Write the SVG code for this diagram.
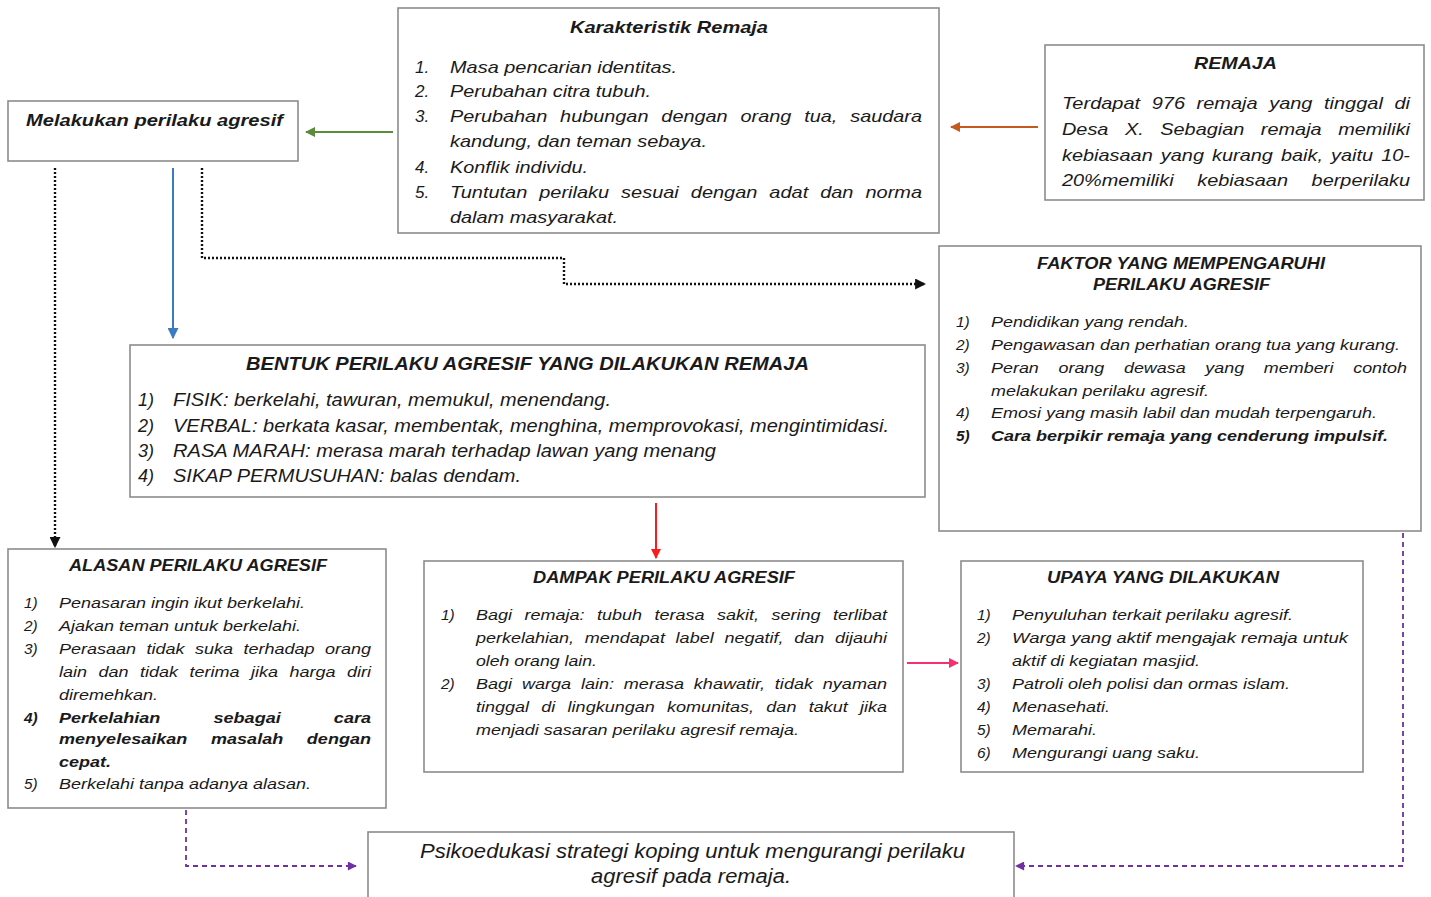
<svg xmlns="http://www.w3.org/2000/svg" width="1431" height="897" viewBox="0 0 1431 897">
<style>
.box{fill:#fff;stroke:#8c8c8c;stroke-width:1.6}
.t{font-family:"Liberation Sans",Arial,sans-serif;font-style:italic;fill:#1a1a1a}
.k{font-size:17px}
.s{font-size:15.4px}
.n{font-size:18px}
.b{font-weight:bold}
.ln{fill:none}
</style>
<defs>
<marker id="mg" viewBox="0 0 10 10" refX="9" refY="5" markerWidth="11" markerHeight="10" markerUnits="userSpaceOnUse" orient="auto"><path d="M0,0 L10,5 L0,10 z" fill="#5b8c3a"/></marker>
<marker id="mo" viewBox="0 0 10 10" refX="9" refY="5" markerWidth="11" markerHeight="10" markerUnits="userSpaceOnUse" orient="auto"><path d="M0,0 L10,5 L0,10 z" fill="#c65a1e"/></marker>
<marker id="mb" viewBox="0 0 10 10" refX="9" refY="5" markerWidth="11" markerHeight="11" markerUnits="userSpaceOnUse" orient="auto"><path d="M0,0 L10,5 L0,10 z" fill="#3a7cc4"/></marker>
<marker id="mk" viewBox="0 0 10 10" refX="9" refY="5" markerWidth="11" markerHeight="11" markerUnits="userSpaceOnUse" orient="auto"><path d="M0,0 L10,5 L0,10 z" fill="#111"/></marker>
<marker id="mr" viewBox="0 0 10 10" refX="9" refY="5" markerWidth="11" markerHeight="10" markerUnits="userSpaceOnUse" orient="auto"><path d="M0,0 L10,5 L0,10 z" fill="#ff1a1a"/></marker>
<marker id="mp" viewBox="0 0 10 10" refX="9" refY="5" markerWidth="11" markerHeight="10" markerUnits="userSpaceOnUse" orient="auto"><path d="M0,0 L10,5 L0,10 z" fill="#f5306e"/></marker>
<marker id="mv" viewBox="0 0 10 10" refX="9" refY="5" markerWidth="10" markerHeight="9" markerUnits="userSpaceOnUse" orient="auto"><path d="M0,0 L10,5 L0,10 z" fill="#7030a0"/></marker>
</defs>

<g id="connectors">
<path class="ln" d="M393,132 L306,132" stroke="#5b8c3a" stroke-width="2" marker-end="url(#mg)"/>
<path class="ln" d="M1038,127 L951,127" stroke="#c65a1e" stroke-width="2" marker-end="url(#mo)"/>
<path class="ln" d="M173,168 L173,338" stroke="#3a7cc4" stroke-width="2" marker-end="url(#mb)"/>
<path class="ln" d="M55,168 L55,547" stroke="#111" stroke-width="2.4" stroke-dasharray="2 2" marker-end="url(#mk)"/>
<path class="ln" d="M202,168 L202,258 L564,258 L564,284 L925,284" stroke="#111" stroke-width="2.4" stroke-dasharray="2 2" marker-end="url(#mk)"/>
<path class="ln" d="M656,503 L656,558" stroke="#ff1a1a" stroke-width="2" marker-end="url(#mr)"/>
<path class="ln" d="M907,663 L958,663" stroke="#f5306e" stroke-width="2" marker-end="url(#mp)"/>
<path class="ln" d="M186,810 L186,866 L356,866" stroke="#7030a0" stroke-width="1.8" stroke-dasharray="5 4" marker-end="url(#mv)"/>
<path class="ln" d="M1403,533 L1403,866 L1016,866" stroke="#7030a0" stroke-width="1.8" stroke-dasharray="5 4" marker-end="url(#mv)"/>
</g>

<g id="melakukan">
<rect class="box" x="8" y="101" width="290" height="60"/>
<text class="t b" font-size="16.5" x="26" y="126" textLength="257" lengthAdjust="spacingAndGlyphs">Melakukan perilaku agresif</text>
</g>

<g id="karakteristik">
<rect class="box" x="398" y="8" width="541" height="225"/>
<text class="t k b" x="570" y="33" textLength="198" lengthAdjust="spacingAndGlyphs">Karakteristik Remaja</text>
<text class="t k" x="415" y="73">1.</text>
<text class="t k" x="450" y="73" textLength="227" lengthAdjust="spacingAndGlyphs">Masa pencarian identitas.</text>
<text class="t k" x="415" y="97">2.</text>
<text class="t k" x="450" y="97" textLength="201" lengthAdjust="spacingAndGlyphs">Perubahan citra tubuh.</text>
<text class="t k" x="415" y="122">3.</text>
<text class="t k" x="450" y="122" word-spacing="6.3" textLength="472" lengthAdjust="spacingAndGlyphs">Perubahan hubungan dengan orang tua, saudara</text>
<text class="t k" x="450" y="147" textLength="257" lengthAdjust="spacingAndGlyphs">kandung, dan teman sebaya.</text>
<text class="t k" x="415" y="173">4.</text>
<text class="t k" x="450" y="173" textLength="138" lengthAdjust="spacingAndGlyphs">Konflik individu.</text>
<text class="t k" x="415" y="198">5.</text>
<text class="t k" x="450" y="198" word-spacing="5.5" textLength="472" lengthAdjust="spacingAndGlyphs">Tuntutan perilaku sesuai dengan adat dan norma</text>
<text class="t k" x="450" y="223" textLength="168" lengthAdjust="spacingAndGlyphs">dalam masyarakat.</text>
</g>

<g id="remaja">
<rect class="box" x="1045" y="45" width="379" height="155"/>
<text class="t k b" x="1194" y="69" textLength="83" lengthAdjust="spacingAndGlyphs">REMAJA</text>
<text class="t k" x="1062" y="109" word-spacing="5.1" textLength="348" lengthAdjust="spacingAndGlyphs">Terdapat 976 remaja yang tinggal di</text>
<text class="t k" x="1062" y="135" word-spacing="9.4" textLength="348" lengthAdjust="spacingAndGlyphs">Desa X. Sebagian remaja memiliki</text>
<text class="t k" x="1062" y="161" word-spacing="2.2" textLength="348" lengthAdjust="spacingAndGlyphs">kebiasaan yang kurang baik, yaitu 10-</text>
<text class="t k" x="1062" y="186" word-spacing="15.5" textLength="348" lengthAdjust="spacingAndGlyphs">20%memiliki kebiasaan berperilaku</text>
</g>

<g id="faktor">
<rect class="box" x="939" y="246" width="482" height="285"/>
<text class="t b" font-size="16" x="1037" y="269" textLength="288" lengthAdjust="spacingAndGlyphs">FAKTOR YANG MEMPENGARUHI</text>
<text class="t b" font-size="16" x="1093" y="290" textLength="177" lengthAdjust="spacingAndGlyphs">PERILAKU AGRESIF</text>
<text class="t s" x="956" y="327">1)</text>
<text class="t s" x="991" y="327" textLength="198" lengthAdjust="spacingAndGlyphs">Pendidikan yang rendah.</text>
<text class="t s" x="956" y="350">2)</text>
<text class="t s" x="991" y="350" textLength="409" lengthAdjust="spacingAndGlyphs">Pengawasan dan perhatian orang tua yang kurang.</text>
<text class="t s" x="956" y="373">3)</text>
<text class="t s" x="991" y="373" word-spacing="12.6" textLength="416" lengthAdjust="spacingAndGlyphs">Peran orang dewasa yang memberi contoh</text>
<text class="t s" x="991" y="396" textLength="218" lengthAdjust="spacingAndGlyphs">melakukan perilaku agresif.</text>
<text class="t s" x="956" y="418">4)</text>
<text class="t s" x="991" y="418" textLength="386" lengthAdjust="spacingAndGlyphs">Emosi yang masih labil dan mudah terpengaruh.</text>
<text class="t s b" x="956" y="441">5)</text>
<text class="t s b" x="991" y="441" textLength="397" lengthAdjust="spacingAndGlyphs">Cara berpikir remaja yang cenderung impulsif.</text>
</g>

<g id="bentuk">
<rect class="box" x="130" y="345" width="795" height="152"/>
<text class="t b" font-size="19" x="246" y="370" textLength="563" lengthAdjust="spacingAndGlyphs">BENTUK PERILAKU AGRESIF YANG DILAKUKAN REMAJA</text>
<text class="t n" x="138" y="406">1)</text>
<text class="t n" x="173" y="406" textLength="438" lengthAdjust="spacingAndGlyphs">FISIK: berkelahi, tawuran, memukul, menendang.</text>
<text class="t n" x="138" y="432">2)</text>
<text class="t n" x="173" y="432" textLength="716" lengthAdjust="spacingAndGlyphs">VERBAL: berkata kasar, membentak, menghina, memprovokasi, mengintimidasi.</text>
<text class="t n" x="138" y="457">3)</text>
<text class="t n" x="173" y="457" textLength="543" lengthAdjust="spacingAndGlyphs">RASA MARAH: merasa marah terhadap lawan yang menang</text>
<text class="t n" x="138" y="482">4)</text>
<text class="t n" x="173" y="482" textLength="348" lengthAdjust="spacingAndGlyphs">SIKAP PERMUSUHAN: balas dendam.</text>
</g>

<g id="alasan">
<rect class="box" x="8" y="549" width="378" height="259"/>
<text class="t b" font-size="16" x="69" y="571" textLength="258" lengthAdjust="spacingAndGlyphs">ALASAN PERILAKU AGRESIF</text>
<text class="t s" x="24" y="608">1)</text>
<text class="t s" x="59" y="608" textLength="246" lengthAdjust="spacingAndGlyphs">Penasaran ingin ikut berkelahi.</text>
<text class="t s" x="24" y="631">2)</text>
<text class="t s" x="59" y="631" textLength="242" lengthAdjust="spacingAndGlyphs">Ajakan teman untuk berkelahi.</text>
<text class="t s" x="24" y="654">3)</text>
<text class="t s" x="59" y="654" word-spacing="4.6" textLength="312" lengthAdjust="spacingAndGlyphs">Perasaan tidak suka terhadap orang</text>
<text class="t s" x="59" y="677" word-spacing="5.5" textLength="312" lengthAdjust="spacingAndGlyphs">lain dan tidak terima jika harga diri</text>
<text class="t s" x="59" y="700" textLength="99" lengthAdjust="spacingAndGlyphs">diremehkan.</text>
<text class="t s b" x="24" y="723">4)</text>
<text class="t s b" x="59" y="723" word-spacing="41" textLength="312" lengthAdjust="spacingAndGlyphs">Perkelahian sebagai cara</text>
<text class="t s b" x="59" y="744" word-spacing="15.9" textLength="312" lengthAdjust="spacingAndGlyphs">menyelesaikan masalah dengan</text>
<text class="t s b" x="59" y="767" textLength="52" lengthAdjust="spacingAndGlyphs">cepat.</text>
<text class="t s" x="24" y="789">5)</text>
<text class="t s" x="59" y="789" textLength="252" lengthAdjust="spacingAndGlyphs">Berkelahi tanpa adanya alasan.</text>
</g>

<g id="dampak">
<rect class="box" x="424" y="561" width="479" height="211"/>
<text class="t b" font-size="16" x="533" y="583" textLength="262" lengthAdjust="spacingAndGlyphs">DAMPAK PERILAKU AGRESIF</text>
<text class="t s" x="441" y="620">1)</text>
<text class="t s" x="476" y="620" word-spacing="6.3" textLength="411" lengthAdjust="spacingAndGlyphs">Bagi remaja: tubuh terasa sakit, sering terlibat</text>
<text class="t s" x="476" y="643" word-spacing="4.9" textLength="411" lengthAdjust="spacingAndGlyphs">perkelahian, mendapat label negatif, dan dijauhi</text>
<text class="t s" x="476" y="666" textLength="121" lengthAdjust="spacingAndGlyphs">oleh orang lain.</text>
<text class="t s" x="441" y="689">2)</text>
<text class="t s" x="476" y="689" word-spacing="4.1" textLength="411" lengthAdjust="spacingAndGlyphs">Bagi warga lain: merasa khawatir, tidak nyaman</text>
<text class="t s" x="476" y="712" word-spacing="6.2" textLength="411" lengthAdjust="spacingAndGlyphs">tinggal di lingkungan komunitas, dan takut jika</text>
<text class="t s" x="476" y="735" textLength="323" lengthAdjust="spacingAndGlyphs">menjadi sasaran perilaku agresif remaja.</text>
</g>

<g id="upaya">
<rect class="box" x="961" y="561" width="402" height="211"/>
<text class="t b" font-size="16" x="1047" y="583" textLength="232" lengthAdjust="spacingAndGlyphs">UPAYA YANG DILAKUKAN</text>
<text class="t s" x="977" y="620">1)</text>
<text class="t s" x="1012" y="620" textLength="281" lengthAdjust="spacingAndGlyphs">Penyuluhan terkait perilaku agresif.</text>
<text class="t s" x="977" y="643">2)</text>
<text class="t s" x="1012" y="643" textLength="336" lengthAdjust="spacingAndGlyphs">Warga yang aktif mengajak remaja untuk</text>
<text class="t s" x="1012" y="666" textLength="188" lengthAdjust="spacingAndGlyphs">aktif di kegiatan masjid.</text>
<text class="t s" x="977" y="689">3)</text>
<text class="t s" x="1012" y="689" textLength="278" lengthAdjust="spacingAndGlyphs">Patroli oleh polisi dan ormas islam.</text>
<text class="t s" x="977" y="712">4)</text>
<text class="t s" x="1012" y="712" textLength="98" lengthAdjust="spacingAndGlyphs">Menasehati.</text>
<text class="t s" x="977" y="735">5)</text>
<text class="t s" x="1012" y="735" textLength="85" lengthAdjust="spacingAndGlyphs">Memarahi.</text>
<text class="t s" x="977" y="758">6)</text>
<text class="t s" x="1012" y="758" textLength="188" lengthAdjust="spacingAndGlyphs">Mengurangi uang saku.</text>
</g>

<g id="psikoedukasi">
<rect class="box" x="368" y="832" width="646" height="80"/>
<text class="t" font-size="20" x="420" y="858" textLength="545" lengthAdjust="spacingAndGlyphs">Psikoedukasi strategi koping untuk mengurangi perilaku</text>
<text class="t" font-size="20" x="591" y="883" textLength="200" lengthAdjust="spacingAndGlyphs">agresif pada remaja.</text>
</g>
</svg>
